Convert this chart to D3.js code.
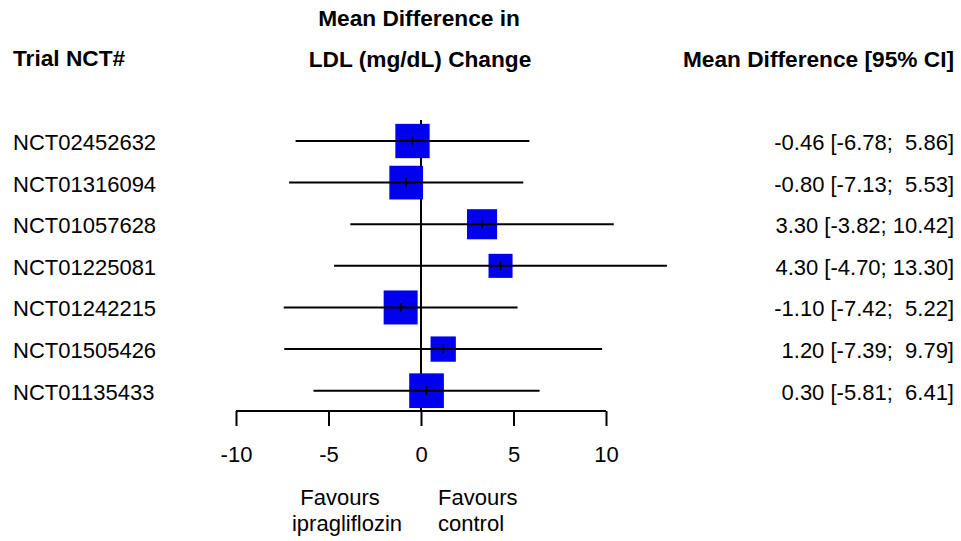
<!DOCTYPE html>
<html>
<head>
<meta charset="utf-8">
<script src="https://cdn.jsdelivr.net/npm/d3@7"></script>
<style>
  html, body { margin: 0; padding: 0; background: #fff; }
  svg { display: block; font-family: "Liberation Sans", Arial, sans-serif; }
  text { white-space: pre; }
</style>
</head>
<body>
<svg id="chart" width="961" height="541"></svg>
<script>
// ---- data ----
const trials = ["NCT02452632","NCT01316094","NCT01057628","NCT01225081","NCT01242215","NCT01505426","NCT01135433"];
const estimate = [-0.46, -0.80, 3.30, 4.30, -1.10, 1.20, 0.30];
const lower    = [-6.78, -7.13, -3.82, -4.70, -7.42, -7.39, -5.81];
const upper    = [ 5.86,  5.53, 10.42, 13.30,  5.22,  9.79,  6.41];
const weight   = [17.3, 16.7, 13.3, 8.5, 17.0, 9.4, 17.7];
const xTicks   = [-10, -5, 0, 5, 10];

const svg = d3.select("#chart");

const locale = d3.formatLocale({decimal: ".", thousands: ",", grouping: [3], currency: ["", ""], minus: "-"});

const x = d3.scaleLinear().domain([-10, 10]).range([236, 606]);
const y = d3.scalePoint().domain(trials).range([141, 390.7]);
const size = d3.scaleSqrt().domain([0, d3.max(weight)]).range([0, 34.7]);

const rows = trials.map((t, i) => ({t, est: estimate[i], lo: lower[i], hi: upper[i], w: weight[i]}));

const fontSize = 22;
const headSize = 22.7;

// headers
svg.append("text").attr("x", 13).attr("y", 66).attr("font-size", headSize).attr("font-weight", "bold").text("Trial NCT#");
svg.append("text").attr("x", x(0) - 2).attr("y", 26).attr("text-anchor", "middle").attr("font-size", headSize).attr("font-weight", "bold").text("Mean Difference in");
svg.append("text").attr("x", x(0) - 1).attr("y", 67).attr("text-anchor", "middle").attr("font-size", headSize).attr("font-weight", "bold").text("LDL (mg/dL) Change");
svg.append("text").attr("x", 954).attr("y", 67).attr("text-anchor", "end").attr("font-size", headSize).attr("font-weight", "bold").text("Mean Difference [95% CI]");

// zero line
svg.append("line")
  .attr("x1", x(0)).attr("x2", x(0))
  .attr("y1", 120).attr("y2", 411)
  .attr("stroke", "#000").attr("stroke-width", 2);

// boxes
svg.selectAll("rect.box").data(rows).enter().append("rect")
  .attr("class", "box")
  .attr("x", d => x(d.est) - size(d.w) / 2)
  .attr("y", d => y(d.t) - size(d.w) / 2)
  .attr("width", d => size(d.w))
  .attr("height", d => size(d.w))
  .attr("fill", "#0000ee");

// CI lines (drawn over the boxes)
svg.selectAll("line.ci").data(rows).enter().append("line")
  .attr("class", "ci")
  .attr("x1", d => x(d.lo)).attr("x2", d => x(d.hi))
  .attr("y1", d => y(d.t)).attr("y2", d => y(d.t))
  .attr("stroke", "#000").attr("stroke-width", 2);

// point tick
svg.selectAll("line.pt").data(rows).enter().append("line")
  .attr("class", "pt")
  .attr("x1", d => x(d.est)).attr("x2", d => x(d.est))
  .attr("y1", d => y(d.t) - 4.5).attr("y2", d => y(d.t) + 4.5)
  .attr("stroke", "#000").attr("stroke-width", 1.5);

// left labels
svg.selectAll("text.trial").data(rows).enter().append("text")
  .attr("class", "trial")
  .attr("x", 13).attr("y", d => y(d.t) + 9)
  .attr("font-size", fontSize)
  .text(d => d.t);

// right labels
const f = locale.format(".2f");
svg.selectAll("text.ci-label").data(rows).enter().append("text")
  .attr("class", "ci-label")
  .attr("x", 954).attr("y", d => y(d.t) + 9)
  .attr("text-anchor", "end")
  .attr("font-size", fontSize)
  .attr("xml:space", "preserve")
  .text(d => `${f(d.est)} [${f(d.lo)}; ${f(d.hi).padStart(5, " ")}]`);

// x axis
const axis = d3.axisBottom(x).tickValues(xTicks).tickSize(15).tickPadding(20).tickFormat(locale.format("d"));
const gx = svg.append("g").attr("transform", "translate(0,411)").call(axis);
gx.select(".domain").attr("d", `M${x(-10)},0H${x(10)}`).attr("stroke", "#000").attr("stroke-width", 2);
gx.selectAll(".tick line").attr("stroke", "#000").attr("stroke-width", 2);
gx.selectAll(".tick text").attr("font-size", fontSize).attr("font-family", "Liberation Sans, Arial, sans-serif").attr("fill", "#000");

// favours labels
svg.append("text").attr("x", 340).attr("y", 505).attr("text-anchor", "middle").attr("font-size", fontSize).text("Favours");
svg.append("text").attr("x", 347).attr("y", 531).attr("text-anchor", "middle").attr("font-size", fontSize).text("ipragliflozin");
svg.append("text").attr("x", 438).attr("y", 505).attr("font-size", fontSize).text("Favours");
svg.append("text").attr("x", 438).attr("y", 531).attr("font-size", fontSize).text("control");
</script>
</body>
</html>
